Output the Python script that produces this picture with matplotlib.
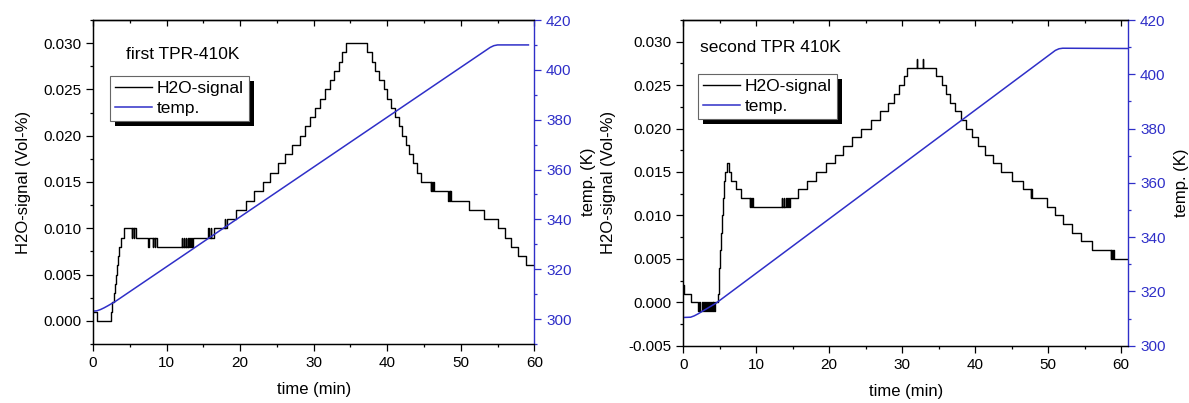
import matplotlib
matplotlib.use("Agg")
import matplotlib.pyplot as plt
from matplotlib.ticker import MultipleLocator, FormatStrFormatter
from matplotlib.patches import Rectangle

plt.rcParams['font.family'] = ['Liberation Sans', 'DejaVu Sans']

BLUE = '#2f2fc8'

# ---------------- data: first TPR-410K (step changes, steps-post) ----------------
t1_h2o = [0, 0.6, 2.5, 2.65, 2.8, 2.95, 3.1, 3.25, 3.4, 3.55, 3.75, 3.9, 4.25,
          5.3, 5.35, 5.55, 5.6, 5.8, 5.85,
          7.5, 7.55, 8.1, 8.15, 8.4, 8.45, 8.75,
          12.1, 12.15, 12.35, 12.4, 12.6, 12.65, 12.85, 12.9, 13.1, 13.15, 13.35, 13.4, 13.6,
          15.7, 15.75, 16.0, 16.05, 16.4, 17.95, 18.0, 18.2,
          19.5, 20.8, 21.9, 23.1, 24.1, 25.1, 26.1, 27.1, 28.1, 28.8, 29.5, 30.2, 30.9,
          31.6, 32.2, 32.8, 33.4, 33.9, 34.45,
          37.3, 37.9, 38.4, 38.9, 39.5, 40.0, 40.5, 41.0, 41.6, 42.0, 42.5, 43.0, 43.5, 44.0, 44.6,
          45.9, 45.95, 46.15, 46.2, 46.4, 48.3, 48.35, 48.55, 48.6, 48.7,
          51.1, 53.1, 55.0, 56.0, 56.8, 57.8, 58.9, 59.9]
v1_h2o = [0.001, 0.000, 0.001, 0.002, 0.003, 0.004, 0.005, 0.006, 0.007, 0.008, 0.009, 0.009, 0.010,
          0.009, 0.010, 0.009, 0.010, 0.009, 0.009,
          0.008, 0.009, 0.008, 0.009, 0.008, 0.009, 0.008,
          0.009, 0.008, 0.009, 0.008, 0.009, 0.008, 0.009, 0.008, 0.009, 0.008, 0.009, 0.008, 0.009,
          0.010, 0.009, 0.010, 0.009, 0.010, 0.011, 0.010, 0.011,
          0.012, 0.013, 0.014, 0.015, 0.016, 0.017, 0.018, 0.019, 0.020, 0.021, 0.022, 0.023, 0.024,
          0.025, 0.026, 0.027, 0.028, 0.029, 0.030,
          0.029, 0.028, 0.027, 0.026, 0.025, 0.024, 0.023, 0.022, 0.021, 0.020, 0.019, 0.018, 0.017, 0.016, 0.015,
          0.014, 0.015, 0.014, 0.015, 0.014, 0.013, 0.014, 0.013, 0.014, 0.013,
          0.012, 0.011, 0.010, 0.009, 0.008, 0.007, 0.006, 0.006]
t1_temp = [0, 0.5, 1.0, 1.5, 2.0, 3.0, 54.0, 54.5, 55.0, 59.2]
v1_temp = [303.2, 303.3, 303.8, 304.5, 305.3, 307.0, 409.0, 409.7, 410.0, 410.0]

# ---------------- data: second TPR 410K (step changes, steps-post) ----------------
t2_h2o = [0, 0.15, 1.0,
          2.05, 2.2, 2.35, 2.5, 2.7, 2.8, 2.95, 3.1, 3.3, 3.4, 3.55, 3.65, 3.8, 3.9, 4.05, 4.1,
          4.25, 4.3, 4.4,
          4.7, 4.85, 4.95, 5.05, 5.15, 5.25, 5.4, 5.55, 5.7, 6.0, 6.2, 6.6, 7.2, 7.9,
          9.1, 9.15, 9.3, 9.35, 9.5,
          13.5, 13.55, 13.8, 13.85, 14.1, 14.15, 14.4, 14.45, 14.6,
          15.75, 16.9, 18.2, 19.6, 20.8, 21.9, 23.1, 24.4, 25.7, 27.0, 28.1, 28.9, 29.6, 30.2, 30.7,
          32.0, 32.05, 32.8, 32.85,
          34.6, 35.4, 36.0, 36.6, 37.3, 38.0, 38.8, 39.6, 40.4, 41.3, 42.4, 43.5, 45.1, 46.6,
          47.6, 47.65, 47.8, 49.8, 51.0, 52.1, 53.3, 54.5, 56.0,
          58.6, 58.65, 58.8, 58.85, 59.0, 61.0]
v2_h2o = [0.002, 0.001, 0.000,
          -0.001, 0.000, -0.001, 0.000, -0.001, 0.000, -0.001, 0.000, -0.001, 0.000, -0.001, 0.000, -0.001, 0.000, -0.001, 0.000,
          -0.001, 0.000, 0.000,
          0.001, 0.002, 0.004, 0.006, 0.008, 0.010, 0.012, 0.014, 0.015, 0.016, 0.015, 0.014, 0.013, 0.012,
          0.011, 0.012, 0.011, 0.012, 0.011,
          0.012, 0.011, 0.012, 0.011, 0.012, 0.011, 0.012, 0.011, 0.012,
          0.013, 0.014, 0.015, 0.016, 0.017, 0.018, 0.019, 0.020, 0.021, 0.022, 0.023, 0.024, 0.025, 0.026, 0.027,
          0.028, 0.027, 0.028, 0.027,
          0.026, 0.025, 0.024, 0.023, 0.022, 0.021, 0.020, 0.019, 0.018, 0.017, 0.016, 0.015, 0.014, 0.013,
          0.012, 0.013, 0.012, 0.011, 0.010, 0.009, 0.008, 0.007, 0.006,
          0.005, 0.006, 0.005, 0.006, 0.005, 0.005]
t2_temp = [0, 1.0, 1.5, 2.0, 2.5, 3.0, 4.5, 51.0, 51.5, 52.0, 61.0]
v2_temp = [310.4, 310.5, 311.0, 311.7, 312.5, 313.3, 315.7, 408.8, 409.4, 409.6, 409.5]

panels = [
    dict(t_h2o=t1_h2o, v_h2o=v1_h2o, t_temp=t1_temp, v_temp=v1_temp,
         title='first TPR-410K', pos=[93, 20, 534.3, 344], xlim=(0, 60),
         ylim=(-0.0025, 0.0325), y2lim=(290, 420), rpad=7,
         leg_xy=(0.0385, 0.827), txt_xy=(0.075, 0.893)),
    dict(t_h2o=t2_h2o, v_h2o=v2_h2o, t_temp=t2_temp, v_temp=v2_temp,
         title='second TPR 410K', pos=[683.3, 20, 1128.3, 345.7], xlim=(0, 61),
         ylim=(-0.005, 0.0325), y2lim=(300, 420), rpad=6,
         leg_xy=(0.033, 0.834), txt_xy=(0.038, 0.916)),
]

W, H = 1189, 403
fig = plt.figure(figsize=(W / 100, H / 100), dpi=100)

for p in panels:
    x0, y0, x1, y1 = p['pos']
    ax = fig.add_axes([x0 / W, 1 - y1 / H, (x1 - x0) / W, (y1 - y0) / H])
    ax2 = ax.twinx()
    l1, = ax.plot(p['t_h2o'], p['v_h2o'], color='black', lw=1.0, drawstyle='steps-post',
                  label='H2O-signal')
    l2, = ax2.plot(p['t_temp'], p['v_temp'], color=BLUE, lw=1.1, label='temp.')
    ax.set_xlim(*p['xlim'])
    ax.set_ylim(*p['ylim'])
    ax2.set_ylim(*p['y2lim'])

    ax.xaxis.set_major_locator(MultipleLocator(10))
    ax.xaxis.set_minor_locator(MultipleLocator(5))
    ax.yaxis.set_major_locator(MultipleLocator(0.005))
    ax.yaxis.set_minor_locator(MultipleLocator(0.0025))
    ax.yaxis.set_major_formatter(FormatStrFormatter('%.3f'))
    ax2.yaxis.set_major_locator(MultipleLocator(20))
    ax2.yaxis.set_minor_locator(MultipleLocator(10))

    ax.tick_params(axis='both', which='major', direction='out', length=5, width=0.9,
                   labelsize=11, top=False, right=False)
    ax.tick_params(axis='both', which='minor', direction='out', length=2.5, width=0.9,
                   top=False, right=False)
    ax2.tick_params(axis='y', which='major', direction='out', length=5, width=0.9,
                    colors=BLUE, labelsize=11)
    ax2.tick_params(axis='y', which='minor', direction='out', length=2.5, width=0.9, colors=BLUE)

    top = ax.secondary_xaxis('top')
    top.xaxis.set_major_locator(MultipleLocator(10))
    top.xaxis.set_minor_locator(MultipleLocator(5))
    top.tick_params(axis='x', which='major', direction='in', length=4.5, width=0.9, labeltop=False)
    top.tick_params(axis='x', which='minor', direction='in', length=2.5, width=0.9)
    top.spines['top'].set_linewidth(0.9)

    for s in ['left', 'bottom', 'top']:
        ax.spines[s].set_linewidth(0.9)
        ax2.spines[s].set_linewidth(0.9)
    ax.spines['right'].set_visible(False)
    ax2.spines['right'].set_color(BLUE)
    ax2.spines['right'].set_linewidth(1.0)

    ax.set_xlabel('time (min)', fontsize=12, labelpad=9)
    ax.set_ylabel('H2O-signal (Vol-%)', fontsize=12, labelpad=9)
    ax2.set_ylabel('temp. (K)', fontsize=12, labelpad=p['rpad'])

    ax.text(p['txt_xy'][0], p['txt_xy'][1], p['title'], transform=ax.transAxes,
            fontsize=12.5, va='center', ha='left')

    leg = ax2.legend([l1, l2], ['H2O-signal', 'temp.'], loc='upper left',
                     bbox_to_anchor=p['leg_xy'], borderaxespad=0, fontsize=12.5,
                     handlelength=2.1, handletextpad=0.3, borderpad=0.3,
                     labelspacing=0.25, fancybox=False, framealpha=1,
                     edgecolor='#666666')
    leg.get_frame().set_linewidth(0.8)
    leg.set_zorder(10)
    fig.canvas.draw()
    bb = leg.get_window_extent()
    sh = Rectangle((bb.x0 + 5, bb.y0 - 5), bb.width, bb.height, transform=None,
                   facecolor='black', edgecolor='none', zorder=9.9)
    ax2.add_artist(sh)

fig.savefig('out.png', dpi=100)
